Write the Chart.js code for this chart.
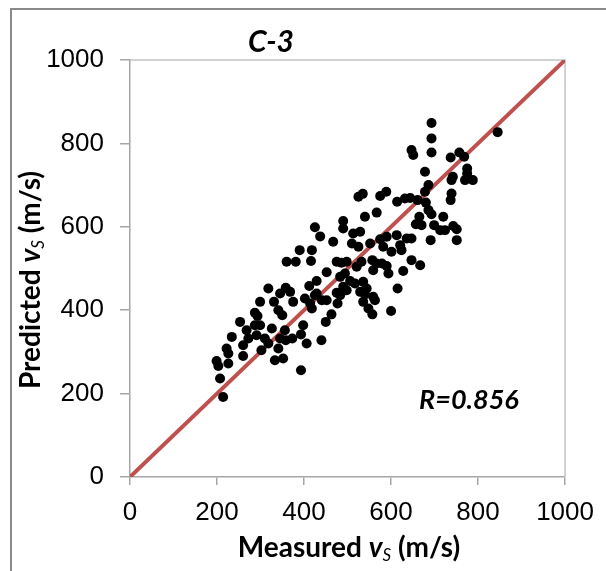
<!DOCTYPE html>
<html>
<head>
  <title>C-3 measured vs predicted</title>
  <script src="https://cdn.jsdelivr.net/npm/chart.js@4.4.0/dist/chart.umd.min.js"></script>
  <style>
    body { margin: 0; background: #fff; }
    #wrap { position: relative; width: 606px; height: 571px; overflow: hidden; }
    #frame { position: absolute; left: 10px; top: 8px; width: 640px; height: 620px; border: 2px solid #8a8a8a; }
    #myChart { position: absolute; left: 0; top: 0; }
  </style>
</head>
<body>
  <div id="wrap">
    <div id="frame"></div>
    <canvas id="myChart" width="606" height="571"></canvas>
  </div>
  <script>
    // measured vs (x) and predicted vs (y)
    const measured = [214, 207, 199, 203, 226, 222, 226, 234, 253, 260, 260, 268, 272, 287, 291, 287, 293, 299, 299, 302,
      310, 318, 318, 326, 331, 333, 341, 350, 341, 345, 345, 352, 356, 358, 358, 360, 368, 373, 375, 381,
      390, 393, 393, 398, 402, 406, 414, 418, 412, 416, 418, 425, 425, 429, 429, 437, 441, 440, 452, 450,
      452, 463, 467, 475, 475, 483, 477, 483, 486, 490, 490, 490, 494, 498, 498, 506, 510, 513, 517, 521,
      525, 525, 529, 529, 532, 535, 536, 536, 540, 540, 544, 548, 552, 557, 557, 559, 559, 563, 567, 567,
      575, 575, 579, 582, 589, 590, 590, 594, 600, 601, 613, 615, 614, 621, 624, 628, 632, 636, 644, 647,
      647, 647, 651, 657, 661, 665, 670, 667, 678, 678, 680, 686, 686, 693, 691, 693, 693, 693, 699, 713,
      720, 724, 737, 737, 739, 739, 742, 743, 751, 751, 757, 768, 770, 775, 775, 788, 845];
    const predicted = [192, 236, 278, 266, 272, 308, 296, 336, 372, 316, 290, 352, 332, 364, 340, 394, 386, 364, 420, 304,
      332, 320, 452, 356, 420, 280, 400, 388, 308, 440, 332, 284, 352, 454, 328, 516, 444, 332, 420, 516,
      544, 342, 256, 364, 428, 320, 416, 404, 458, 518, 544, 436, 599, 470, 440, 577, 424, 328, 424, 372,
      491, 390, 564, 516, 442, 436, 416, 480, 514, 456, 614, 596, 488, 516, 448, 470, 560, 584, 464, 504,
      552, 672, 588, 444, 516, 679, 468, 420, 624, 438, 452, 404, 560, 390, 520, 496, 432, 424, 634, 512,
      570, 674, 512, 552, 684, 576, 506, 488, 398, 540, 580, 452, 660, 556, 544, 494, 668, 572, 669, 520,
      572, 784, 772, 606, 664, 624, 604, 508, 732, 684, 658, 700, 640, 630, 568, 812, 778, 849, 604, 592,
      624, 592, 664, 766, 712, 680, 720, 602, 594, 568, 778, 768, 712, 740, 728, 712, 827];

    // 1:1 reference line
    const lineX = [0, 1000];
    const lineY = [0, 1000];

    const axisTicks = [0, 200, 400, 600, 800, 1000];
    const chartTitle = 'C-3';
    const rLabel = 'R=0.856';

    function drawRich(ctx, parts, x, y, angle) {
      ctx.save();
      ctx.translate(x, y);
      ctx.rotate(angle);
      ctx.textBaseline = 'middle';
      ctx.textAlign = 'left';
      var total = 0;
      parts.forEach(p => { ctx.font = p.f; total += ctx.measureText(p.t).width; });
      var cx = -total / 2;
      parts.forEach(p => {
        ctx.font = p.f;
        ctx.fillText(p.t, cx, p.dy || 0);
        cx += ctx.measureText(p.t).width;
      });
      ctx.restore();
    }

    const decor = {
      id: 'decor',
      beforeDatasetsDraw(chart) {
        const a = chart.chartArea;
        const c = chart.ctx;
        c.save();
        c.strokeStyle = '#c4c4c4';
        c.lineWidth = 1.5;
        c.beginPath();
        c.moveTo(a.left, a.top);
        c.lineTo(a.right, a.top);
        c.lineTo(a.right, a.bottom);
        c.stroke();
        c.restore();
      },
      afterDraw(chart) {
        const c = chart.ctx;
        const xs = chart.scales.x, ys = chart.scales.y;
        c.save();
        c.fillStyle = '#000';
        c.textAlign = 'center';
        c.textBaseline = 'middle';
        c.font = 'italic bold 30px Lato';
        c.fillText(chartTitle, 271, 42);
        c.font = 'italic bold 27px Lato';
        c.fillText(rLabel, xs.getPixelForValue(779), ys.getPixelForValue(185));
        c.restore();
        c.fillStyle = '#000';
        drawRich(c, [
          { t: 'Measured ', f: 'bold 28px Lato' },
          { t: 'v', f: 'italic bold 28px Lato' },
          { t: 'S', f: 'italic 17px Lato', dy: 8 },
          { t: ' (m/s)', f: 'bold 28px Lato' }
        ], 349, 548, 0);
        drawRich(c, [
          { t: 'Predicted ', f: 'bold 28px Lato' },
          { t: 'v', f: 'italic bold 28px Lato' },
          { t: 'S', f: 'italic 17px Lato', dy: 8 },
          { t: ' (m/s)', f: 'bold 28px Lato' }
        ], 31, 280, -Math.PI / 2);
      }
    };

    function axis(extra) {
      return Object.assign({
        type: 'linear',
        min: 0,
        max: 1000,
        afterBuildTicks: s => { s.ticks = axisTicks.map(v => ({ value: v })); }
      }, extra);
    }

    const tickFont = { family: 'Liberation Sans, Arial', size: 26 };
    const border = { display: true, color: '#a6a6a6', width: 1.5 };

    var ctx = document.getElementById('myChart').getContext('2d');
    var myChart = new Chart(ctx, {
      type: 'scatter',
      data: {
        datasets: [{
          label: 'points',
          data: measured.map((v, i) => ({ x: v, y: predicted[i] })),
          backgroundColor: '#000',
          borderColor: '#000',
          borderWidth: 0,
          pointRadius: 5,
          order: 0
        }, {
          type: 'line',
          label: '1:1',
          data: lineX.map((v, i) => ({ x: v, y: lineY[i] })),
          borderColor: '#c0504d',
          borderWidth: 4,
          pointRadius: 0,
          fill: false,
          order: 1
        }]
      },
      options: {
        responsive: false,
        animation: false,
        layout: { padding: { top: 60, right: 37, left: 0, bottom: 0 } },
        plugins: { legend: { display: false }, tooltip: { enabled: false } },
        scales: {
          x: axis({
            border: border,
            grid: { drawOnChartArea: false, drawTicks: true, tickLength: 8, color: '#a6a6a6', lineWidth: 1.5 },
            ticks: { color: '#000', padding: 12, maxRotation: 0, font: tickFont, callback: v => String(v) },
            afterFit: s => { s.height = 94; }
          }),
          y: axis({
            border: border,
            grid: { drawOnChartArea: false, drawTicks: true, tickLength: 10, color: '#a6a6a6', lineWidth: 1.5 },
            ticks: { color: '#000', padding: 16, font: tickFont, callback: v => String(v) },
            afterFit: s => { s.width = 130; }
          })
        }
      },
      plugins: [decor]
    });
  </script>
</body>
</html>
